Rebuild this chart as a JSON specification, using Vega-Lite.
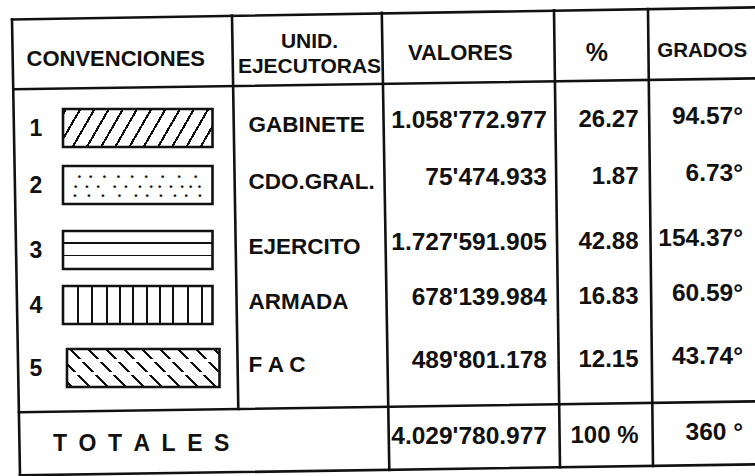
{
"$schema": "https://vega.github.io/schema/vega-lite/v6.json",
"width": 755, "height": 476, "padding": 0, "autosize": {"type": "none"},
"background": "white",
"config": {"view": {"stroke": null}},
"datasets": {
 "filas": [
  {"fila": 1, "conv": "1", "unidad": "GABINETE", "valores": "1.058'772.977", "pct": "26.27", "grados": "94.57°"},
  {"fila": 2, "conv": "2", "unidad": "CDO.GRAL.", "valores": "75'474.933", "pct": "1.87", "grados": "6.73°"},
  {"fila": 3, "conv": "3", "unidad": "EJERCITO", "valores": "1.727'591.905", "pct": "42.88", "grados": "154.37°"},
  {"fila": 4, "conv": "4", "unidad": "ARMADA", "valores": "678'139.984", "pct": "16.83", "grados": "60.59°"},
  {"fila": 5, "conv": "5", "unidad": "F A C", "valores": "489'801.178", "pct": "12.15", "grados": "43.74°"},
  {"fila": 6, "conv": "", "unidad": "T\u2002O\u2002T\u2002A\u2002L\u2002E\u2002S", "valores": "4.029'780.977", "pct": "100 %", "grados": "360 °"}
 ],
 "cabecera": [
  {"col": 0, "titulo": "CONVENCIONES"},
  {"col": 1, "titulo": "UNID.\nEJECUTORAS"},
  {"col": 2, "titulo": "VALORES"},
  {"col": 3, "titulo": "%"},
  {"col": 4, "titulo": "GRADOS"}
 ],
 "uno": [{}]
},
"layer": [
 {"data": {"name": "uno"}, "mark": {"type": "rule", "color": "#111", "strokeWidth": 2.6, "strokeCap": "square", "xOffset": -4, "yOffset": 5.5, "y2Offset": -6.7},
  "encoding": {"x": {"datum": -0.5, "type": "quantitative", "axis": null, "scale": {"domain": [-0.5,0.5,1.5,2.5,3.5,4.5], "range": [16,235.5,385.5,557,650.5,762], "zero": false, "nice": false}}, "x2": {"datum": 4.5},
   "y": {"datum": -0.5, "type": "quantitative", "axis": null, "scale": {"domain": [-0.5,0,0.5,1,2,3,4,5,5.5,6,6.5], "range": [14,55,85,125,182,247,302,365,408,441,471], "zero": false, "nice": false}}, "y2": {"datum": -0.5}}},
 {"data": {"name": "uno"}, "mark": {"type": "rule", "color": "#111", "strokeWidth": 2.6, "strokeCap": "square", "xOffset": -2.7, "yOffset": 4.3, "y2Offset": -6.7},
  "encoding": {"x": {"datum": -0.5, "type": "quantitative", "axis": null, "scale": {"domain": [-0.5,0.5,1.5,2.5,3.5,4.5], "range": [16,235.5,385.5,557,650.5,762], "zero": false, "nice": false}}, "x2": {"datum": 4.5},
   "y": {"datum": 0.5, "type": "quantitative", "axis": null, "scale": {"domain": [-0.5,0,0.5,1,2,3,4,5,5.5,6,6.5], "range": [14,55,85,125,182,247,302,365,408,441,471], "zero": false, "nice": false}}, "y2": {"datum": 0.5}}},
 {"data": {"name": "uno"}, "mark": {"type": "rule", "color": "#111", "strokeWidth": 2.6, "strokeCap": "square", "xOffset": 3, "yOffset": 4.3, "y2Offset": -6.7},
  "encoding": {"x": {"datum": -0.5, "type": "quantitative", "axis": null, "scale": {"domain": [-0.5,0.5,1.5,2.5,3.5,4.5], "range": [16,235.5,385.5,557,650.5,762], "zero": false, "nice": false}}, "x2": {"datum": 4.5},
   "y": {"datum": 5.5, "type": "quantitative", "axis": null, "scale": {"domain": [-0.5,0,0.5,1,2,3,4,5,5.5,6,6.5], "range": [14,55,85,125,182,247,302,365,408,441,471], "zero": false, "nice": false}}, "y2": {"datum": 5.5}}},
 {"data": {"name": "uno"}, "mark": {"type": "rule", "color": "#111", "strokeWidth": 2.6, "strokeCap": "square", "xOffset": 4, "yOffset": 4.3, "y2Offset": -6.7},
  "encoding": {"x": {"datum": -0.5, "type": "quantitative", "axis": null, "scale": {"domain": [-0.5,0.5,1.5,2.5,3.5,4.5], "range": [16,235.5,385.5,557,650.5,762], "zero": false, "nice": false}}, "x2": {"datum": 4.5},
   "y": {"datum": 6.5, "type": "quantitative", "axis": null, "scale": {"domain": [-0.5,0,0.5,1,2,3,4,5,5.5,6,6.5], "range": [14,55,85,125,182,247,302,365,408,441,471], "zero": false, "nice": false}}, "y2": {"datum": 6.5}}},
 {"data": {"name": "uno"}, "mark": {"type": "rule", "color": "#111", "strokeWidth": 2.6, "strokeCap": "square", "xOffset": -4, "x2Offset": 4, "yOffset": 5.5, "y2Offset": 4.5},
  "encoding": {"x": {"datum": -0.5, "type": "quantitative", "axis": null, "scale": {"domain": [-0.5,0.5,1.5,2.5,3.5,4.5], "range": [16,235.5,385.5,557,650.5,762], "zero": false, "nice": false}}, "x2": {"datum": -0.5},
   "y": {"datum": -0.5, "type": "quantitative", "axis": null, "scale": {"domain": [-0.5,0,0.5,1,2,3,4,5,5.5,6,6.5], "range": [14,55,85,125,182,247,302,365,408,441,471], "zero": false, "nice": false}}, "y2": {"datum": 6.5}}},
 {"data": {"name": "uno"}, "mark": {"type": "rule", "color": "#111", "strokeWidth": 2.6, "strokeCap": "square", "xOffset": -3.5, "x2Offset": 2.8, "yOffset": 1.5, "y2Offset": 1},
  "encoding": {"x": {"datum": 0.5, "type": "quantitative", "axis": null, "scale": {"domain": [-0.5,0.5,1.5,2.5,3.5,4.5], "range": [16,235.5,385.5,557,650.5,762], "zero": false, "nice": false}}, "x2": {"datum": 0.5},
   "y": {"datum": -0.5, "type": "quantitative", "axis": null, "scale": {"domain": [-0.5,0,0.5,1,2,3,4,5,5.5,6,6.5], "range": [14,55,85,125,182,247,302,365,408,441,471], "zero": false, "nice": false}}, "y2": {"datum": 5.5}}},
 {"data": {"name": "uno"}, "mark": {"type": "rule", "color": "#111", "strokeWidth": 2.6, "strokeCap": "square", "xOffset": -3.7, "x2Offset": 3.8, "yOffset": -1.1, "y2Offset": -1.1},
  "encoding": {"x": {"datum": 1.5, "type": "quantitative", "axis": null, "scale": {"domain": [-0.5,0.5,1.5,2.5,3.5,4.5], "range": [16,235.5,385.5,557,650.5,762], "zero": false, "nice": false}}, "x2": {"datum": 1.5},
   "y": {"datum": -0.5, "type": "quantitative", "axis": null, "scale": {"domain": [-0.5,0,0.5,1,2,3,4,5,5.5,6,6.5], "range": [14,55,85,125,182,247,302,365,408,441,471], "zero": false, "nice": false}}, "y2": {"datum": 6.5}}},
 {"data": {"name": "uno"}, "mark": {"type": "rule", "color": "#111", "strokeWidth": 2.6, "strokeCap": "square", "xOffset": -3, "x2Offset": 3, "yOffset": -3.7, "y2Offset": -3.7},
  "encoding": {"x": {"datum": 2.5, "type": "quantitative", "axis": null, "scale": {"domain": [-0.5,0.5,1.5,2.5,3.5,4.5], "range": [16,235.5,385.5,557,650.5,762], "zero": false, "nice": false}}, "x2": {"datum": 2.5},
   "y": {"datum": -0.5, "type": "quantitative", "axis": null, "scale": {"domain": [-0.5,0,0.5,1,2,3,4,5,5.5,6,6.5], "range": [14,55,85,125,182,247,302,365,408,441,471], "zero": false, "nice": false}}, "y2": {"datum": 6.5}}},
 {"data": {"name": "uno"}, "mark": {"type": "rule", "color": "#111", "strokeWidth": 2.6, "strokeCap": "square", "xOffset": -2.5, "x2Offset": 2.5, "yOffset": -5, "y2Offset": -5},
  "encoding": {"x": {"datum": 3.5, "type": "quantitative", "axis": null, "scale": {"domain": [-0.5,0.5,1.5,2.5,3.5,4.5], "range": [16,235.5,385.5,557,650.5,762], "zero": false, "nice": false}}, "x2": {"datum": 3.5},
   "y": {"datum": -0.5, "type": "quantitative", "axis": null, "scale": {"domain": [-0.5,0,0.5,1,2,3,4,5,5.5,6,6.5], "range": [14,55,85,125,182,247,302,365,408,441,471], "zero": false, "nice": false}}, "y2": {"datum": 6.5}}},

 {"data": {"name": "cabecera"}, "transform": [{"filter": "datum.col == 0"}],
  "mark": {"type": "text", "font": "Liberation Sans", "fontWeight": "bold", "fontSize": 22, "fill": "#111", "align": "center", "baseline": "middle", "dx": -10, "dy": 3.5},
  "encoding": {"x": {"field": "col", "type": "quantitative", "axis": null, "scale": {"domain": [-0.5,0.5,1.5,2.5,3.5,4.5], "range": [16,235.5,385.5,557,650.5,762], "zero": false, "nice": false}},
   "y": {"datum": 0, "type": "quantitative", "axis": null, "scale": {"domain": [-0.5,0,0.5,1,2,3,4,5,5.5,6,6.5], "range": [14,55,85,125,182,247,302,365,408,441,471], "zero": false, "nice": false}},
   "text": {"field": "titulo"}}},
 {"data": {"name": "cabecera"}, "transform": [{"filter": "datum.col == 1"}],
  "mark": {"type": "text", "font": "Liberation Sans", "fontWeight": "bold", "fontSize": 21, "lineHeight": 25, "lineBreak": "\n", "fill": "#111", "align": "center", "baseline": "middle", "dx": -1, "dy": -13},
  "encoding": {"x": {"field": "col", "type": "quantitative", "axis": null, "scale": {"domain": [-0.5,0.5,1.5,2.5,3.5,4.5], "range": [16,235.5,385.5,557,650.5,762], "zero": false, "nice": false}},
   "y": {"datum": 0, "type": "quantitative", "axis": null, "scale": {"domain": [-0.5,0,0.5,1,2,3,4,5,5.5,6,6.5], "range": [14,55,85,125,182,247,302,365,408,441,471], "zero": false, "nice": false}},
   "text": {"field": "titulo"}}},
 {"data": {"name": "cabecera"}, "transform": [{"filter": "datum.col == 2"}],
  "mark": {"type": "text", "font": "Liberation Sans", "fontWeight": "bold", "fontSize": 22, "fill": "#111", "align": "center", "baseline": "middle", "dx": -11, "dy": -2},
  "encoding": {"x": {"field": "col", "type": "quantitative", "axis": null, "scale": {"domain": [-0.5,0.5,1.5,2.5,3.5,4.5], "range": [16,235.5,385.5,557,650.5,762], "zero": false, "nice": false}},
   "y": {"datum": 0, "type": "quantitative", "axis": null, "scale": {"domain": [-0.5,0,0.5,1,2,3,4,5,5.5,6,6.5], "range": [14,55,85,125,182,247,302,365,408,441,471], "zero": false, "nice": false}},
   "text": {"field": "titulo"}}},
 {"data": {"name": "cabecera"}, "transform": [{"filter": "datum.col == 3"}],
  "mark": {"type": "text", "font": "Liberation Sans", "fontWeight": "bold", "fontSize": 25, "fill": "#111", "align": "center", "baseline": "middle", "dx": -7, "dy": -2},
  "encoding": {"x": {"field": "col", "type": "quantitative", "axis": null, "scale": {"domain": [-0.5,0.5,1.5,2.5,3.5,4.5], "range": [16,235.5,385.5,557,650.5,762], "zero": false, "nice": false}},
   "y": {"datum": 0, "type": "quantitative", "axis": null, "scale": {"domain": [-0.5,0,0.5,1,2,3,4,5,5.5,6,6.5], "range": [14,55,85,125,182,247,302,365,408,441,471], "zero": false, "nice": false}},
   "text": {"field": "titulo"}}},
 {"data": {"name": "cabecera"}, "transform": [{"filter": "datum.col == 4"}],
  "mark": {"type": "text", "font": "Liberation Sans", "fontWeight": "bold", "fontSize": 20.5, "fill": "#111", "align": "center", "baseline": "middle", "dx": -4, "dy": -4.5},
  "encoding": {"x": {"field": "col", "type": "quantitative", "axis": null, "scale": {"domain": [-0.5,0.5,1.5,2.5,3.5,4.5], "range": [16,235.5,385.5,557,650.5,762], "zero": false, "nice": false}},
   "y": {"datum": 0, "type": "quantitative", "axis": null, "scale": {"domain": [-0.5,0,0.5,1,2,3,4,5,5.5,6,6.5], "range": [14,55,85,125,182,247,302,365,408,441,471], "zero": false, "nice": false}},
   "text": {"field": "titulo"}}},

 {"data": {"name": "filas"}, "transform": [{"filter": "datum.fila <= 5"}],
  "mark": {"type": "text", "font": "Liberation Sans", "fontWeight": "bold", "fontSize": 23, "fill": "#111", "align": "center", "baseline": "middle", "dx": 20, "dy": 4},
  "encoding": {"x": {"datum": -0.5, "type": "quantitative", "axis": null, "scale": {"domain": [-0.5,0.5,1.5,2.5,3.5,4.5], "range": [16,235.5,385.5,557,650.5,762], "zero": false, "nice": false}},
   "y": {"field": "fila", "type": "quantitative", "axis": null, "scale": {"domain": [-0.5,0,0.5,1,2,3,4,5,5.5,6,6.5], "range": [14,55,85,125,182,247,302,365,408,441,471], "zero": false, "nice": false}},
   "text": {"field": "conv"}}},
 {"data": {"name": "filas"}, "transform": [{"filter": "datum.fila <= 5"}],
  "mark": {"type": "text", "font": "Liberation Sans", "fontWeight": "bold", "fontSize": 22.5, "fill": "#111", "align": "left", "baseline": "middle", "dx": 13, "dy": 0},
  "encoding": {"x": {"datum": 0.5, "type": "quantitative", "axis": null, "scale": {"domain": [-0.5,0.5,1.5,2.5,3.5,4.5], "range": [16,235.5,385.5,557,650.5,762], "zero": false, "nice": false}},
   "y": {"field": "fila", "type": "quantitative", "axis": null, "scale": {"domain": [-0.5,0,0.5,1,2,3,4,5,5.5,6,6.5], "range": [14,55,85,125,182,247,302,365,408,441,471], "zero": false, "nice": false}},
   "text": {"field": "unidad"}}},
 {"data": {"name": "filas"}, "transform": [{"filter": "datum.fila == 6"}],
  "mark": {"type": "text", "font": "Liberation Sans", "fontWeight": "bold", "fontSize": 23, "fill": "#111", "align": "left", "baseline": "middle", "dx": 37, "dy": 3},
  "encoding": {"x": {"datum": -0.5, "type": "quantitative", "axis": null, "scale": {"domain": [-0.5,0.5,1.5,2.5,3.5,4.5], "range": [16,235.5,385.5,557,650.5,762], "zero": false, "nice": false}},
   "y": {"field": "fila", "type": "quantitative", "axis": null, "scale": {"domain": [-0.5,0,0.5,1,2,3,4,5,5.5,6,6.5], "range": [14,55,85,125,182,247,302,365,408,441,471], "zero": false, "nice": false}},
   "text": {"field": "unidad"}}},
 {"data": {"name": "filas"},
  "mark": {"type": "text", "font": "Liberation Sans", "fontWeight": "bold", "fontSize": 24.5, "fill": "#111", "align": "right", "baseline": "middle", "dx": -10, "dy": -4},
  "encoding": {"x": {"datum": 2.5, "type": "quantitative", "axis": null, "scale": {"domain": [-0.5,0.5,1.5,2.5,3.5,4.5], "range": [16,235.5,385.5,557,650.5,762], "zero": false, "nice": false}},
   "y": {"field": "fila", "type": "quantitative", "axis": null, "scale": {"domain": [-0.5,0,0.5,1,2,3,4,5,5.5,6,6.5], "range": [14,55,85,125,182,247,302,365,408,441,471], "zero": false, "nice": false}},
   "text": {"field": "valores"}}},
 {"data": {"name": "filas"},
  "mark": {"type": "text", "font": "Liberation Sans", "fontWeight": "bold", "fontSize": 24, "fill": "#111", "align": "right", "baseline": "middle", "dx": -12, "dy": -5},
  "encoding": {"x": {"datum": 3.5, "type": "quantitative", "axis": null, "scale": {"domain": [-0.5,0.5,1.5,2.5,3.5,4.5], "range": [16,235.5,385.5,557,650.5,762], "zero": false, "nice": false}},
   "y": {"field": "fila", "type": "quantitative", "axis": null, "scale": {"domain": [-0.5,0,0.5,1,2,3,4,5,5.5,6,6.5], "range": [14,55,85,125,182,247,302,365,408,441,471], "zero": false, "nice": false}},
   "text": {"field": "pct"}}},
 {"data": {"name": "filas"},
  "mark": {"type": "text", "font": "Liberation Sans", "fontWeight": "bold", "fontSize": 24.5, "fill": "#111", "align": "right", "baseline": "middle", "dx": -19, "dy": -8},
  "encoding": {"x": {"datum": 4.5, "type": "quantitative", "axis": null, "scale": {"domain": [-0.5,0.5,1.5,2.5,3.5,4.5], "range": [16,235.5,385.5,557,650.5,762], "zero": false, "nice": false}},
   "y": {"field": "fila", "type": "quantitative", "axis": null, "scale": {"domain": [-0.5,0,0.5,1,2,3,4,5,5.5,6,6.5], "range": [14,55,85,125,182,247,302,365,408,441,471], "zero": false, "nice": false}},
   "text": {"field": "grados"}}},

 {"data": {"name": "filas"}, "transform": [{"filter": "datum.fila == 1"}],
  "mark": {"type": "rect", "xOffset": 47, "x2Offset": -23, "yOffset": -16, "y2Offset": 22,
   "fill": {"gradient": "linear", "x1": 0, "y1": 0, "x2": 1.123, "y2": 0.165, "stops": [
    {"offset": 0, "color": "white"},
    {"offset": 0.010, "color": "white"}, {"offset": 0.010, "color": "#111"}, {"offset": 0.024, "color": "#111"}, {"offset": 0.024, "color": "white"},
    {"offset": 0.094, "color": "white"}, {"offset": 0.094, "color": "#111"}, {"offset": 0.108, "color": "#111"}, {"offset": 0.108, "color": "white"},
    {"offset": 0.177, "color": "white"}, {"offset": 0.177, "color": "#111"}, {"offset": 0.191, "color": "#111"}, {"offset": 0.191, "color": "white"},
    {"offset": 0.260, "color": "white"}, {"offset": 0.260, "color": "#111"}, {"offset": 0.274, "color": "#111"}, {"offset": 0.274, "color": "white"},
    {"offset": 0.343, "color": "white"}, {"offset": 0.343, "color": "#111"}, {"offset": 0.357, "color": "#111"}, {"offset": 0.357, "color": "white"},
    {"offset": 0.425, "color": "white"}, {"offset": 0.425, "color": "#111"}, {"offset": 0.439, "color": "#111"}, {"offset": 0.439, "color": "white"},
    {"offset": 0.508, "color": "white"}, {"offset": 0.508, "color": "#111"}, {"offset": 0.522, "color": "#111"}, {"offset": 0.522, "color": "white"},
    {"offset": 0.591, "color": "white"}, {"offset": 0.591, "color": "#111"}, {"offset": 0.605, "color": "#111"}, {"offset": 0.605, "color": "white"},
    {"offset": 0.675, "color": "white"}, {"offset": 0.675, "color": "#111"}, {"offset": 0.689, "color": "#111"}, {"offset": 0.689, "color": "white"},
    {"offset": 0.757, "color": "white"}, {"offset": 0.757, "color": "#111"}, {"offset": 0.771, "color": "#111"}, {"offset": 0.771, "color": "white"},
    {"offset": 0.840, "color": "white"}, {"offset": 0.840, "color": "#111"}, {"offset": 0.854, "color": "#111"}, {"offset": 0.854, "color": "white"},
    {"offset": 0.923, "color": "white"}, {"offset": 0.923, "color": "#111"}, {"offset": 0.937, "color": "#111"}, {"offset": 0.937, "color": "white"},
    {"offset": 1, "color": "white"}]}},
  "encoding": {"x": {"datum": -0.5, "type": "quantitative", "axis": null, "scale": {"domain": [-0.5,0.5,1.5,2.5,3.5,4.5], "range": [16,235.5,385.5,557,650.5,762], "zero": false, "nice": false}}, "x2": {"datum": 0.5},
   "y": {"field": "fila", "type": "quantitative", "axis": null, "scale": {"domain": [-0.5,0,0.5,1,2,3,4,5,5.5,6,6.5], "range": [14,55,85,125,182,247,302,365,408,441,471], "zero": false, "nice": false}}, "y2": {"field": "fila"}}},
 {"data": {"name": "filas"}, "transform": [{"filter": "datum.fila == 2"}],
  "mark": {"type": "text", "font": "Liberation Sans", "fontWeight": "bold", "fontSize": 9.5, "lineHeight": 9.5, "lineBreak": "\n", "fill": "#111", "align": "center", "baseline": "middle", "dx": 121.5, "dy": -5,
   "text": "•\u00a0\u00a0\u00a0•\u00a0\u00a0\u00a0\u00a0•\u00a0\u00a0\u00a0\u00a0•\u00a0\u00a0\u00a0\u00a0•\u00a0\u00a0\u00a0\u00a0•\u00a0\u00a0\u00a0\u00a0\u00a0•\u00a0\u00a0\u00a0\u00a0\u00a0•\u00a0\u00a0\u00a0\u00a0\u00a0•\n•\u00a0\u00a0\u00a0•\u00a0\u00a0\u00a0•\u00a0\u00a0\u00a0\u00a0\u00a0•\u00a0\u00a0\u00a0•\u00a0\u00a0\u00a0\u00a0•\u00a0\u00a0\u00a0•\u00a0\u00a0•\u00a0\u00a0\u00a0•\u00a0\u00a0\u00a0•\u00a0\u00a0•\u00a0\u00a0•\n•\u00a0\u00a0\u00a0\u00a0•\u00a0\u00a0\u00a0\u00a0•\u00a0\u00a0\u00a0\u00a0\u00a0•\u00a0\u00a0\u00a0\u00a0\u00a0•\u00a0\u00a0\u00a0•\u00a0\u00a0\u00a0\u00a0•\u00a0\u00a0\u00a0\u00a0•\u00a0\u00a0\u00a0•\u00a0\u00a0\u00a0\u00a0•"},
  "encoding": {"x": {"datum": -0.5, "type": "quantitative", "axis": null, "scale": {"domain": [-0.5,0.5,1.5,2.5,3.5,4.5], "range": [16,235.5,385.5,557,650.5,762], "zero": false, "nice": false}},
   "y": {"field": "fila", "type": "quantitative", "axis": null, "scale": {"domain": [-0.5,0,0.5,1,2,3,4,5,5.5,6,6.5], "range": [14,55,85,125,182,247,302,365,408,441,471], "zero": false, "nice": false}}}},
 {"data": {"name": "filas"}, "transform": [{"filter": "datum.fila == 3"}],
  "mark": {"type": "rect", "xOffset": 47, "x2Offset": -23, "yOffset": -16, "y2Offset": 22,
   "fill": {"gradient": "linear", "x1": 0, "y1": 0, "x2": 0, "y2": 1, "stops": [
    {"offset": 0, "color": "white"},
    {"offset": 0.29, "color": "white"}, {"offset": 0.29, "color": "#111"}, {"offset": 0.33, "color": "#111"}, {"offset": 0.33, "color": "white"},
    {"offset": 0.62, "color": "white"}, {"offset": 0.62, "color": "#111"}, {"offset": 0.66, "color": "#111"}, {"offset": 0.66, "color": "white"},
    {"offset": 1, "color": "white"}]}},
  "encoding": {"x": {"datum": -0.5, "type": "quantitative", "axis": null, "scale": {"domain": [-0.5,0.5,1.5,2.5,3.5,4.5], "range": [16,235.5,385.5,557,650.5,762], "zero": false, "nice": false}}, "x2": {"datum": 0.5},
   "y": {"field": "fila", "type": "quantitative", "axis": null, "scale": {"domain": [-0.5,0,0.5,1,2,3,4,5,5.5,6,6.5], "range": [14,55,85,125,182,247,302,365,408,441,471], "zero": false, "nice": false}}, "y2": {"field": "fila"}}},
 {"data": {"name": "filas"}, "transform": [{"filter": "datum.fila == 4"}],
  "mark": {"type": "rect", "xOffset": 47, "x2Offset": -23, "yOffset": -16, "y2Offset": 22,
   "fill": {"gradient": "linear", "x1": 0, "y1": 0, "x2": 1, "y2": 0, "stops": [
    {"offset": 0, "color": "white"},
    {"offset": 0.094, "color": "white"}, {"offset": 0.094, "color": "#111"}, {"offset": 0.106, "color": "#111"}, {"offset": 0.106, "color": "white"},
    {"offset": 0.188, "color": "white"}, {"offset": 0.188, "color": "#111"}, {"offset": 0.200, "color": "#111"}, {"offset": 0.200, "color": "white"},
    {"offset": 0.288, "color": "white"}, {"offset": 0.288, "color": "#111"}, {"offset": 0.300, "color": "#111"}, {"offset": 0.300, "color": "white"},
    {"offset": 0.375, "color": "white"}, {"offset": 0.375, "color": "#111"}, {"offset": 0.387, "color": "#111"}, {"offset": 0.387, "color": "white"},
    {"offset": 0.462, "color": "white"}, {"offset": 0.462, "color": "#111"}, {"offset": 0.474, "color": "#111"}, {"offset": 0.474, "color": "white"},
    {"offset": 0.556, "color": "white"}, {"offset": 0.556, "color": "#111"}, {"offset": 0.568, "color": "#111"}, {"offset": 0.568, "color": "white"},
    {"offset": 0.643, "color": "white"}, {"offset": 0.643, "color": "#111"}, {"offset": 0.655, "color": "#111"}, {"offset": 0.655, "color": "white"},
    {"offset": 0.730, "color": "white"}, {"offset": 0.730, "color": "#111"}, {"offset": 0.742, "color": "#111"}, {"offset": 0.742, "color": "white"},
    {"offset": 0.830, "color": "white"}, {"offset": 0.830, "color": "#111"}, {"offset": 0.842, "color": "#111"}, {"offset": 0.842, "color": "white"},
    {"offset": 0.924, "color": "white"}, {"offset": 0.924, "color": "#111"}, {"offset": 0.936, "color": "#111"}, {"offset": 0.936, "color": "white"},
    {"offset": 1, "color": "white"}]}},
  "encoding": {"x": {"datum": -0.5, "type": "quantitative", "axis": null, "scale": {"domain": [-0.5,0.5,1.5,2.5,3.5,4.5], "range": [16,235.5,385.5,557,650.5,762], "zero": false, "nice": false}}, "x2": {"datum": 0.5},
   "y": {"field": "fila", "type": "quantitative", "axis": null, "scale": {"domain": [-0.5,0,0.5,1,2,3,4,5,5.5,6,6.5], "range": [14,55,85,125,182,247,302,365,408,441,471], "zero": false, "nice": false}}, "y2": {"field": "fila"}}},
 {"data": {"name": "filas"}, "transform": [{"filter": "datum.fila == 5"}],
  "mark": {"type": "rect", "xOffset": 51, "x2Offset": -16, "yOffset": -16, "y2Offset": 22,
   "fill": {"gradient": "linear", "x1": 0, "y1": 1, "x2": 1.176, "y2": 0.707, "stops": [
    {"offset": 0, "color": "white"},
    {"offset": 0.0185, "color": "white"}, {"offset": 0.0185, "color": "#111"}, {"offset": 0.0335, "color": "#111"}, {"offset": 0.0335, "color": "white"},
    {"offset": 0.1135, "color": "white"}, {"offset": 0.1135, "color": "#111"}, {"offset": 0.1285, "color": "#111"}, {"offset": 0.1285, "color": "white"},
    {"offset": 0.2075, "color": "white"}, {"offset": 0.2075, "color": "#111"}, {"offset": 0.2225, "color": "#111"}, {"offset": 0.2225, "color": "white"},
    {"offset": 0.3025, "color": "white"}, {"offset": 0.3025, "color": "#111"}, {"offset": 0.3175, "color": "#111"}, {"offset": 0.3175, "color": "white"},
    {"offset": 0.3965, "color": "white"}, {"offset": 0.3965, "color": "#111"}, {"offset": 0.4115, "color": "#111"}, {"offset": 0.4115, "color": "white"},
    {"offset": 0.4915, "color": "white"}, {"offset": 0.4915, "color": "#111"}, {"offset": 0.5065, "color": "#111"}, {"offset": 0.5065, "color": "white"},
    {"offset": 0.5855, "color": "white"}, {"offset": 0.5855, "color": "#111"}, {"offset": 0.6005, "color": "#111"}, {"offset": 0.6005, "color": "white"},
    {"offset": 0.6805, "color": "white"}, {"offset": 0.6805, "color": "#111"}, {"offset": 0.6955, "color": "#111"}, {"offset": 0.6955, "color": "white"},
    {"offset": 0.7745, "color": "white"}, {"offset": 0.7745, "color": "#111"}, {"offset": 0.7895, "color": "#111"}, {"offset": 0.7895, "color": "white"},
    {"offset": 0.8695, "color": "white"}, {"offset": 0.8695, "color": "#111"}, {"offset": 0.8845, "color": "#111"}, {"offset": 0.8845, "color": "white"},
    {"offset": 0.9635, "color": "white"}, {"offset": 0.9635, "color": "#111"}, {"offset": 0.9785, "color": "#111"}, {"offset": 0.9785, "color": "white"},
    {"offset": 1, "color": "white"}]}},
  "encoding": {"x": {"datum": -0.5, "type": "quantitative", "axis": null, "scale": {"domain": [-0.5,0.5,1.5,2.5,3.5,4.5], "range": [16,235.5,385.5,557,650.5,762], "zero": false, "nice": false}}, "x2": {"datum": 0.5},
   "y": {"field": "fila", "type": "quantitative", "axis": null, "scale": {"domain": [-0.5,0,0.5,1,2,3,4,5,5.5,6,6.5], "range": [14,55,85,125,182,247,302,365,408,441,471], "zero": false, "nice": false}}, "y2": {"field": "fila"}}},
 {"data": {"name": "filas"}, "transform": [{"filter": "datum.fila == 5"}],
  "mark": {"type": "rect", "xOffset": 51, "x2Offset": -16, "yOffset": -16, "y2Offset": 22,
   "fill": {"gradient": "linear", "x1": 0, "y1": 0, "x2": 0, "y2": 1, "stops": [
    {"offset": 0, "color": "rgba(255,255,255,0)"},
    {"offset": 0.27, "color": "rgba(255,255,255,0)"}, {"offset": 0.27, "color": "white"}, {"offset": 0.35, "color": "white"}, {"offset": 0.35, "color": "rgba(255,255,255,0)"},
    {"offset": 0.61, "color": "rgba(255,255,255,0)"}, {"offset": 0.61, "color": "white"}, {"offset": 0.69, "color": "white"}, {"offset": 0.69, "color": "rgba(255,255,255,0)"},
    {"offset": 1, "color": "rgba(255,255,255,0)"}]}},
  "encoding": {"x": {"datum": -0.5, "type": "quantitative", "axis": null, "scale": {"domain": [-0.5,0.5,1.5,2.5,3.5,4.5], "range": [16,235.5,385.5,557,650.5,762], "zero": false, "nice": false}}, "x2": {"datum": 0.5},
   "y": {"field": "fila", "type": "quantitative", "axis": null, "scale": {"domain": [-0.5,0,0.5,1,2,3,4,5,5.5,6,6.5], "range": [14,55,85,125,182,247,302,365,408,441,471], "zero": false, "nice": false}}, "y2": {"field": "fila"}}},
 {"data": {"name": "filas"}, "transform": [{"filter": "datum.fila <= 4"}],
  "mark": {"type": "rect", "xOffset": 47, "x2Offset": -23, "yOffset": -16, "y2Offset": 22, "fill": "transparent", "stroke": "#111", "strokeWidth": 2.6},
  "encoding": {"x": {"datum": -0.5, "type": "quantitative", "axis": null, "scale": {"domain": [-0.5,0.5,1.5,2.5,3.5,4.5], "range": [16,235.5,385.5,557,650.5,762], "zero": false, "nice": false}}, "x2": {"datum": 0.5},
   "y": {"field": "fila", "type": "quantitative", "axis": null, "scale": {"domain": [-0.5,0,0.5,1,2,3,4,5,5.5,6,6.5], "range": [14,55,85,125,182,247,302,365,408,441,471], "zero": false, "nice": false}}, "y2": {"field": "fila"}}},
 {"data": {"name": "filas"}, "transform": [{"filter": "datum.fila == 5"}],
  "mark": {"type": "rect", "xOffset": 51, "x2Offset": -16, "yOffset": -16, "y2Offset": 22, "fill": "transparent", "stroke": "#111", "strokeWidth": 2.6},
  "encoding": {"x": {"datum": -0.5, "type": "quantitative", "axis": null, "scale": {"domain": [-0.5,0.5,1.5,2.5,3.5,4.5], "range": [16,235.5,385.5,557,650.5,762], "zero": false, "nice": false}}, "x2": {"datum": 0.5},
   "y": {"field": "fila", "type": "quantitative", "axis": null, "scale": {"domain": [-0.5,0,0.5,1,2,3,4,5,5.5,6,6.5], "range": [14,55,85,125,182,247,302,365,408,441,471], "zero": false, "nice": false}}, "y2": {"field": "fila"}}}
]
}
